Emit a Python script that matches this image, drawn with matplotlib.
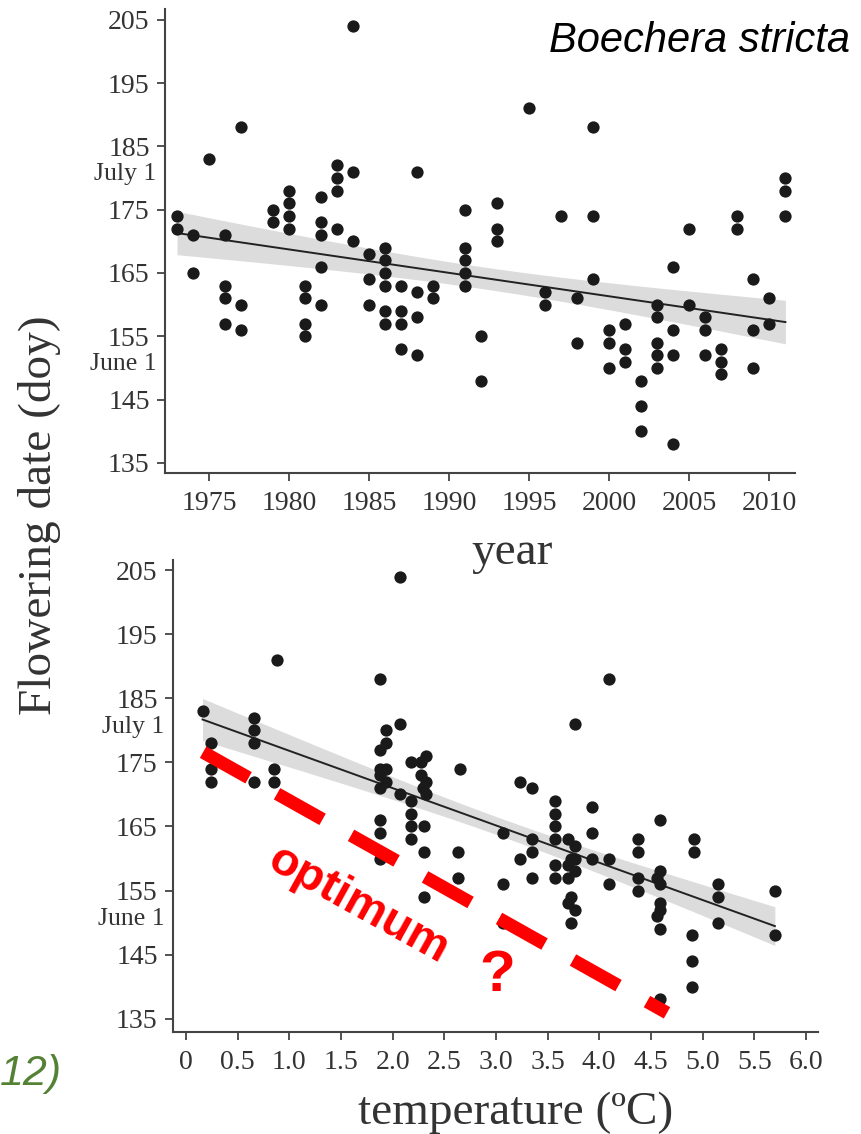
import numpy as np
import matplotlib
matplotlib.use("Agg")
import matplotlib.pyplot as plt
import matplotlib.transforms as mtransforms

# ---- top panel: flowering day-of-year by year ----
year_groups = {
    1973: [174, 172], 1974: [171, 165], 1975: [183], 1976: [171, 163, 161, 157],
    1977: [188, 160, 156], 1979: [175, 173], 1980: [178, 176, 174, 172],
    1981: [163, 161, 157, 155], 1982: [177, 173, 171, 166, 160],
    1983: [182, 180, 178, 172], 1984: [204, 181, 170], 1985: [168, 164, 160],
    1986: [169, 167, 165, 163, 159, 157], 1987: [163, 159, 157, 153],
    1988: [181, 162, 158, 152], 1989: [163, 161], 1991: [175, 169, 167, 165, 163],
    1992: [155, 148], 1993: [176, 172, 170], 1995: [191], 1996: [162, 160],
    1997: [174], 1998: [161, 154], 1999: [188, 174, 164], 2000: [156, 154, 150],
    2001: [157, 153, 151], 2002: [148, 144, 140], 2003: [160, 158, 154, 152, 150],
    2004: [166, 156, 152, 138], 2005: [172, 160], 2006: [158, 156, 152],
    2007: [153, 151, 149], 2008: [174, 172], 2009: [164, 156, 150],
    2010: [161, 157], 2011: [180, 178, 174],
}
years = np.array([y for y, v in year_groups.items() for _ in v], dtype=float)
doy_year = np.array([d for v in year_groups.values() for d in v], dtype=float)

# ---- bottom panel: flowering day-of-year by temperature ----
temp = np.array([
    0.16, 0.24, 0.24, 0.24, 0.66, 0.66, 0.66, 0.66, 0.85, 0.85, 0.88,
    1.88, 1.94, 1.94, 1.88, 1.88, 1.94, 1.88, 1.94, 1.88, 1.88, 1.88, 1.88,
    2.07, 2.07, 2.07,
    2.18, 2.18, 2.18, 2.18, 2.18,
    2.32, 2.27, 2.27, 2.32, 2.29, 2.32, 2.30, 2.30, 2.30,
    2.65, 2.63, 2.63,
    3.07, 3.07, 3.07,
    3.23, 3.23,
    3.35, 3.35, 3.35, 3.35,
    3.57, 3.57, 3.57, 3.57, 3.57, 3.57,
    3.77, 3.70, 3.77, 3.73, 3.77, 3.70, 3.77, 3.70, 3.73, 3.70, 3.77, 3.73,
    3.93, 3.93, 3.93,
    4.09, 4.09, 4.09,
    4.38, 4.38, 4.38, 4.38,
    4.59, 4.59, 4.56, 4.59, 4.59, 4.59, 4.56, 4.59, 4.59,
    4.92, 4.92, 4.90, 4.90, 4.90,
    5.15, 5.15, 5.15,
    5.70, 5.70,
])
doy_temp = np.array([
    183, 178, 174, 172, 182, 180, 178, 172, 174, 172, 191,
    188, 180, 178, 177, 174, 174, 173, 172, 171, 166, 164, 160,
    204, 181, 170,
    175, 169, 167, 165, 163,
    176, 175, 173, 172, 171, 170, 165, 161, 154,
    174, 161, 157,
    164, 156, 150,
    172, 160,
    171, 163, 161, 157,
    169, 167, 165, 163, 159, 157,
    181, 163, 162, 160, 160, 159, 158, 157, 154, 153, 152, 150,
    168, 164, 160,
    188, 160, 156,
    163, 161, 157, 155,
    166, 158, 157, 156, 153, 152, 151, 149, 138,
    163, 161, 148, 144, 140,
    156, 154, 150,
    155, 148,
], dtype=float)

y_ticks = [135, 145, 155, 165, 175, 185, 195, 205]
year_ticks = [1975, 1980, 1985, 1990, 1995, 2000, 2005, 2010]
temp_ticks = [0, 0.5, 1.0, 1.5, 2.0, 2.5, 3.0, 3.5, 4.0, 4.5, 5.0, 5.5, 6.0]
temp_tick_labels = ["0", "0.5", "1.0", "1.5", "2.0", "2.5", "3.0", "3.5",
                    "4.0", "4.5", "5.0", "5.5", "6.0"]
month_doy = [180.6, 150.6]
month_labels = ["July 1", "June 1"]

# hand-drawn "optimum" guess line (temperature, doy)
optimum_t = [0.165, 4.656]
optimum_doy = [176.6, 135.9]

SERIF = ["Liberation Serif", "DejaVu Serif"]
SANS = ["Liberation Sans", "DejaVu Sans"]
GREY = "#333333"


def fit_band(x, y, n=100, z=1.7):
    b, a = np.polyfit(x, y, 1)
    xs = np.linspace(x.min(), x.max(), n)
    resid = y - (a + b * x)
    s = np.sqrt(np.sum(resid ** 2) / (len(x) - 2))
    sxx = np.sum((x - x.mean()) ** 2)
    se = s * np.sqrt(1 / len(x) + (xs - x.mean()) ** 2 / sxx)
    fit = a + b * xs
    return xs, fit, fit - z * se, fit + z * se


def style_axes(ax):
    for side in ["top", "right"]:
        ax.spines[side].set_visible(False)
    for side in ["left", "bottom"]:
        ax.spines[side].set_color("#444444")
        ax.spines[side].set_linewidth(1.5)
    ax.tick_params(direction="out", length=6, width=1.3, color="#444444",
                   labelsize=20, labelcolor=GREY)
    ax.tick_params(axis="x", pad=7)
    ax.tick_params(axis="y", pad=5)
    ax.set_yticks(y_ticks)
    for lab in ax.get_xticklabels() + ax.get_yticklabels():
        lab.set_family(SERIF)
    # month markers under the tick labels
    trans = mtransforms.blended_transform_factory(ax.transAxes, ax.transData)
    for d, lab in zip(month_doy, month_labels):
        ax.annotate(lab, xy=(0, d), xycoords=trans, xytext=(-6, 0),
                    textcoords="offset points", ha="right", va="center",
                    fontsize=18.5, family=SERIF, color=GREY)


fig = plt.figure(figsize=(8.62, 11.34), dpi=100)
ax1 = fig.add_axes([0.1914, 0.5829, 0.7309, 0.4092])
ax2 = fig.add_axes([0.2007, 0.0899, 0.7483, 0.4162])
ax2.patch.set_visible(False)

# top panel
xs, fit, lo, hi = fit_band(years, doy_year)
ax1.fill_between(xs, lo, hi, color="#dcdcdc", lw=0, zorder=1)
ax1.plot(xs, fit, color="#222222", lw=1.4, zorder=2)
ax1.scatter(years, doy_year, s=78, color="#1a1a1a", lw=0, zorder=3)
ax1.set_xlim(1972.25, 2011.6)
ax1.set_ylim(133.4, 206.7)
ax1.set_xticks(year_ticks)
style_axes(ax1)

# bottom panel
xs, fit, lo, hi = fit_band(temp, doy_temp)
ax2.fill_between(xs, lo, hi, color="#dcdcdc", lw=0, zorder=1)
ax2.plot(xs, fit, color="#222222", lw=1.4, zorder=2)
ax2.scatter(temp, doy_temp, s=78, color="#1a1a1a", lw=0, zorder=3)
ax2.set_xlim(-0.126, 6.118)
ax2.set_ylim(132.9, 206.6)
ax2.set_xticks(temp_ticks)
ax2.set_xticklabels(temp_tick_labels)
style_axes(ax2)

ax2.plot(optimum_t, optimum_doy, color="#ff0000", lw=9.4, dashes=(4.0, 2.5),
         dash_capstyle="butt", zorder=4)
ax2.text(1.665, 152.7, "optimum", rotation=-29, rotation_mode="anchor",
         ha="center", va="center", fontsize=34, fontweight="bold",
         family=SANS, color="#ff0000", zorder=5)
ax2.text(3.01, 141.7, "?", ha="center", va="center", fontsize=42,
         fontweight="bold", family=SANS, color="#ff0000", zorder=5)

fig.text(512 / 862, 1 - 553 / 1134, "year", ha="center", va="center",
         fontsize=34, family=SERIF, color=GREY)
fig.text(516 / 862, 1 - 1113 / 1134, "temperature (ºC)", ha="center",
         va="center", fontsize=34, family=SERIF, color=GREY)
fig.text(40 / 862, 1 - 515 / 1134, "Flowering date (doy)", rotation=90,
         ha="center", va="center", fontsize=34, family=SERIF, color=GREY)
fig.text(850 / 862, 1 - 52 / 1134, "Boechera stricta", ha="right", va="baseline",
         fontsize=30, style="italic", family=SANS, color="black")
fig.text(0.0, 1 - 1085 / 1134, "12)", ha="left", va="baseline",
         fontsize=31, style="italic", family=SANS, color="#548235")

fig.savefig("out.png", dpi=100)
